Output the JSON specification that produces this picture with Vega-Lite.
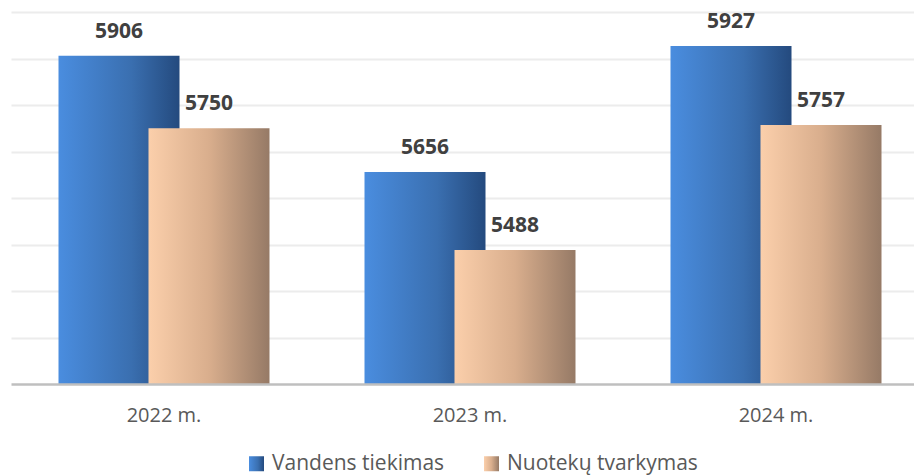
{
  "$schema": "https://vega.github.io/schema/vega-lite/v6.json",
  "width": 903,
  "height": 372,
  "autosize": "none",
  "padding": {"left": 11, "top": 12, "right": 0, "bottom": 92},
  "background": "white",
  "config": {"view": {"stroke": null}, "font": "Open Sans"},
  "data": {
    "values": [
      {"year": "2022 m.", "series": "Vandens tiekimas", "value": 5906},
      {"year": "2022 m.", "series": "Nuotekų tvarkymas", "value": 5750},
      {"year": "2023 m.", "series": "Vandens tiekimas", "value": 5656},
      {"year": "2023 m.", "series": "Nuotekų tvarkymas", "value": 5488},
      {"year": "2024 m.", "series": "Vandens tiekimas", "value": 5927},
      {"year": "2024 m.", "series": "Nuotekų tvarkymas", "value": 5757}
    ]
  },
  "encoding": {
    "x": {
      "field": "year", "type": "nominal", "sort": null,
      "scale": {"range": [0, 918], "paddingInner": 0.4118, "paddingOuter": 0.2059},
      "axis": {
        "title": null, "labelAngle": 0, "ticks": false,
        "domainColor": "#bfbfbf", "domainWidth": 2.5,
        "labelFont": "Open Sans", "labelFontSize": 20, "labelColor": "#595959",
        "labelPadding": 21, "grid": false, "zindex": 1
      }
    },
    "xOffset": {
      "field": "series", "type": "nominal",
      "scale": {"domain": ["Vandens tiekimas", "Nuotekų tvarkymas"], "paddingInner": 0, "paddingOuter": 0}
    },
    "y": {
      "field": "value", "type": "quantitative",
      "scale": {"domain": [5200, 6000], "zero": false, "nice": false},
      "axis": {
        "title": null, "labels": false, "ticks": false, "domain": false,
        "values": [5300, 5400, 5500, 5600, 5700, 5800, 5900, 6000],
        "gridColor": "#ececec", "gridWidth": 2
      }
    }
  },
  "layer": [
    {
      "mark": {"type": "bar", "width": 121, "strokeWidth": 0, "clip": true},
      "encoding": {
        "fill": {
          "field": "series", "type": "nominal",
          "scale": {
            "domain": ["Vandens tiekimas", "Nuotekų tvarkymas"],
            "range": [
              {"expr": "{gradient: 'linear', x1: 0, y1: 0, x2: 1, y2: 0, stops: [{offset: 0, color: '#4a8ddf'}, {offset: 0.6, color: '#3a6fb0'}, {offset: 1, color: '#244a7e'}]}"},
              {"expr": "{gradient: 'linear', x1: 0, y1: 0, x2: 1, y2: 0, stops: [{offset: 0, color: '#fbcfab'}, {offset: 0.5, color: '#d9ae8d'}, {offset: 1, color: '#967a66'}]}"}
            ]
          },
          "legend": {
            "title": null, "orient": "none", "legendX": 235, "legendY": 441, "direction": "horizontal",
            "symbolType": "square", "symbolSize": 225, "symbolStrokeWidth": 0,
            "labelFont": "Open Sans", "labelFontSize": 21, "labelColor": "#595959", "labelLimit": 0,
            "columnPadding": 36, "labelOffset": 5
          }
        }
      }
    },
    {
      "mark": {
        "type": "text", "baseline": "alphabetic", "dy": -18,
        "font": "Open Sans", "fontSize": 21, "fontWeight": "bold", "color": "#404040"
      },
      "encoding": {
        "text": {"field": "value", "type": "quantitative", "format": "d"}
      }
    }
  ]
}
